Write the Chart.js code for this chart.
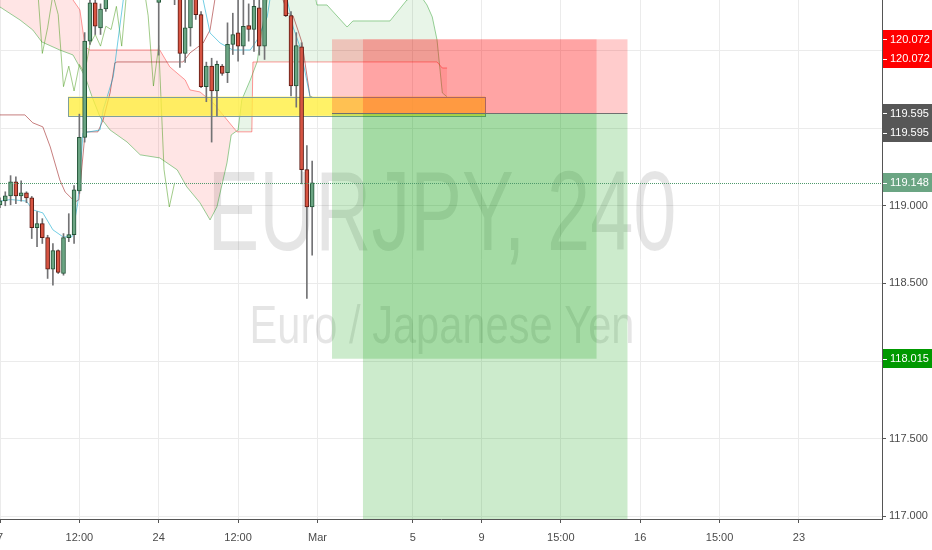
<!DOCTYPE html>
<html>
<head>
<meta charset="utf-8">
<title>EURJPY, 240</title>
<script src="https://cdn.jsdelivr.net/npm/chart.js@4.4.1/dist/chart.umd.min.js"></script>
<style>
  html, body { margin: 0; padding: 0; background: #fff; }
  #wrap { width: 932px; height: 550px; }
</style>
</head>
<body>
<div id="wrap"><canvas id="chart" width="932" height="550"></canvas></div>
<script>
// 4h candles, bar number = index
const opens  = [119.006,119.032,119.064,119.154,119.064,119.083,119.051,118.859,118.885,118.795,
                118.592,118.712,118.564,118.795,118.814,119.096,119.440,120.060,120.306,120.146,
                120.267,120.400,120.520,120.630,120.550,120.720,120.660,120.580,120.480,120.400,
                120.310,120.345,120.450,120.400,120.450,119.981,120.146,120.380,120.231,119.767,
                119.899,119.739,119.899,119.857,120.039,120.114,120.028,120.160,120.135,120.274,
                120.028,120.400,120.550,120.620,120.450,120.224,119.771,120.024,119.233,118.992];
const highs  = [119.051,119.090,119.194,119.186,119.160,119.090,119.060,118.962,118.917,118.810,
                118.757,118.716,118.821,118.949,119.130,119.590,120.115,120.350,120.350,120.300,
                120.450,120.580,120.680,120.700,120.780,120.800,120.700,120.620,120.520,120.440,
                120.400,120.500,120.520,120.500,120.480,120.330,120.400,120.420,120.250,119.925,
                119.950,119.931,119.910,120.178,120.240,120.330,120.330,120.300,120.340,120.340,
                120.450,120.620,120.700,120.660,120.500,120.250,120.115,120.050,119.387,119.288];
const lows   = [118.987,119.000,119.006,119.013,119.030,119.020,118.789,118.737,118.757,118.532,
                118.489,118.564,118.553,118.769,118.757,119.080,119.410,120.039,120.103,120.103,
                120.252,120.360,120.470,120.500,120.520,120.600,120.500,120.430,120.360,120.330,
                119.970,120.330,120.330,120.295,119.891,119.923,120.028,120.200,119.760,119.670,
                119.410,119.579,119.840,119.793,119.974,119.931,119.974,120.060,119.994,119.970,
                119.942,120.350,120.480,120.400,120.218,119.707,119.635,119.141,118.404,118.682];
const closes = [119.032,119.064,119.154,119.064,119.083,119.051,118.859,118.885,118.795,118.592,
                118.712,118.571,118.795,118.814,119.103,119.440,120.060,120.306,120.156,120.267,
                120.400,120.520,120.630,120.550,120.720,120.660,120.580,120.480,120.400,120.360,
                120.345,120.450,120.400,120.450,119.981,120.146,120.360,120.231,119.767,119.899,
                119.739,119.910,119.853,120.039,120.103,120.028,120.156,120.135,120.284,120.028,
                120.400,120.550,120.620,120.450,120.224,119.771,120.032,119.233,118.992,119.148];

// Ichimoku lines: [bar, price]
const conversionLine = [[0,119.03],[2,119.04],[5,119.03],[6.2,118.974],[8.1,118.954],[10,118.845],
  [11.9,118.8],[13.6,118.8],[14.7,119.019],[15.7,119.469],[18.9,119.488],[19.5,119.617],[21.4,119.83],
  [23.3,120.325],[25,120.45],[36.5,120.45],[38.4,120.325],[39.7,120.113],[41.6,120.048],[44,120.003],
  [47.3,120.003],[48.6,120.068],[50.5,120.216],[51,120.325],[52,120.42],[53.8,120.42],[54.3,120.325],
  [55.4,120.151],[56.7,120.023],[58.6,119.701],[59,119.701]];
const baseLine = [[0,119.585],[4.7,119.585],[6.2,119.534],[8.1,119.508],[9.5,119.379],[11.3,119.167],
  [12.3,119.089],[14.2,119.025],[14.9,119.038],[16.1,119.476],[18.5,119.476],[19.5,119.553],[20.8,119.727],
  [21.7,119.92],[22.1,119.926],[34.6,119.926],[35.9,119.984],[38.4,120.048],[39.7,120.132],[40.6,120.325],
  [42,120.42],[52,120.42],[53.5,120.325],[54.4,120.241],[55.4,120.222],[56.3,120.132],[57.1,120.048],
  [58.6,119.701],[59,119.701]];
const leadingSpanA = [[0,120.28],[3.8,120.196],[6.2,120.132],[7.9,120.055],[11.3,120.003],[13.8,119.971],
  [16.1,119.83],[17.4,119.701],[18.9,119.572],[20.8,119.488],[24,119.411],[26.5,119.328],[30.2,119.308],
  [33.5,119.231],[35.3,119.122],[37.8,119.019],[39.7,118.909],[41,118.993],[42.9,119.276],[43.7,119.456],
  [45,119.488],[45.7,119.682],[47.3,119.81],[48.6,119.926],[49.5,120.132],[50.5,120.325],[52,120.45],
  [59,120.45],[59.9,120.293],[61.8,120.293],[65.6,120.151],[66.7,120.19],[73.7,120.19],[76.9,120.325],
  [79.4,120.357],[80.7,120.293],[81.7,120.216],[82.6,120.068],[83.6,119.727],[84.5,119.701]];
const leadingSpanB = [[0,120.45],[13,120.4],[13.8,120.325],[15.1,120.261],[16.1,120.023],[17,120.003],
  [30.2,120.003],[32.1,119.894],[35,119.81],[35.9,119.746],[37.8,119.733],[40.3,119.662],[44,119.508],
  [44.8,119.476],[47.6,119.476],[47.8,119.926],[82.6,119.926],[83.6,119.887],[84.5,119.887]];
const laggingShift = 26;

// axes
const xTickBars   = [0, 15, 30, 45, 60, 78, 91, 106, 121, 136, 151];
const xTickLabels = ['7', '12:00', '24', '12:00', 'Mar', '5', '9', '15:00', '16', '15:00', '23'];
const yGridPrices = [117, 117.5, 118, 118.5, 119, 119.5, 120];
const yShownPrices = [117, 117.5, 118.5, 119];

// drawings
const zoneBars   = [12.85, 91.7];
const zonePrices = [119.579, 119.703];
const positionStarts  = [62.75, 68.6];
const positionEnds    = [112.75, 118.6];
const positionTargets = [118.015, 116.5];
const stopPrice  = 120.072;
const entryPrice = 119.595;
const lastPrice  = 119.148;

const UP = '#6ba583', DOWN = '#d75442';
const toPts = arr => arr.map(p => ({ x: p[0], y: p[1] }));

const bodies = opens.map((o, i) => ({ x: i, y: [o, closes[i]] }));
const wicks  = lows.map((l, i) => ({ x: i, y: [l, highs[i]] }));
const lagging = closes.slice(laggingShift).map((c, i) => ({ x: i, y: c }));
const isUp = opens.map((o, i) => closes[i] >= o);

const FONT = '"Liberation Sans", Arial, sans-serif';
Chart.defaults.font.family = FONT;

function fitText(ctx, text, size, width, cx, baseline) {
  ctx.font = size + 'px ' + FONT;
  const w = ctx.measureText(text).width;
  ctx.save();
  ctx.translate(cx, baseline);
  ctx.scale(width / w, 1);
  ctx.textAlign = 'center';
  ctx.textBaseline = 'alphabetic';
  ctx.fillText(text, 0, 0);
  ctx.restore();
}

const overlay = {
  id: 'overlay',
  beforeDatasetsDraw(chart) {
    const { ctx, chartArea: a } = chart;
    const cx = (a.left + a.right) / 2 + 1;
    ctx.save();
    ctx.fillStyle = 'rgba(0,0,0,0.1)';
    fitText(ctx, 'EURJPY, 240', 114, 469, cx, 250);
    fitText(ctx, 'Euro / Japanese Yen', 53, 385, cx, 343);
    ctx.restore();
  },
  beforeDatasetDraw(chart, args) {
    if (args.index !== 1) return;
    const { ctx, chartArea: a, scales: { x, y } } = chart;
    ctx.save();
    ctx.beginPath();
    ctx.rect(a.left, a.top, a.right - a.left, a.bottom - a.top);
    ctx.clip();
    // yellow zone
    const zx0 = x.getPixelForValue(zoneBars[0]), zx1 = x.getPixelForValue(zoneBars[1]);
    const zy0 = y.getPixelForValue(zonePrices[1]), zy1 = y.getPixelForValue(zonePrices[0]);
    ctx.fillStyle = 'rgba(255,238,60,0.78)';
    ctx.fillRect(zx0, zy0, zx1 - zx0, zy1 - zy0);
    ctx.strokeStyle = '#7f9f9c';
    ctx.lineWidth = 1;
    ctx.strokeRect(Math.round(zx0) + 0.5, Math.round(zy0) + 0.5, Math.round(zx1 - zx0), Math.round(zy1 - zy0));
    // short positions
    const ys = y.getPixelForValue(stopPrice), ye = y.getPixelForValue(entryPrice);
    positionStarts.forEach((s, i) => {
      const x0 = x.getPixelForValue(s), x1 = x.getPixelForValue(positionEnds[i]);
      const yt = y.getPixelForValue(positionTargets[i]);
      ctx.fillStyle = 'rgba(255,0,0,0.2)';
      ctx.fillRect(x0, ys, x1 - x0, ye - ys);
      ctx.fillStyle = 'rgba(0,155,0,0.2)';
      ctx.fillRect(x0, ye, x1 - x0, yt - ye);
    });
    ctx.strokeStyle = '#6f6f6f';
    ctx.beginPath();
    const e = Math.round(ye) + 0.5;
    ctx.moveTo(x.getPixelForValue(Math.min(...positionStarts)), e);
    ctx.lineTo(x.getPixelForValue(Math.max(...positionEnds)), e);
    ctx.stroke();
    ctx.restore();
  },
  afterDatasetsDraw(chart) {
    const { ctx, chartArea: a, scales: { y } } = chart;
    const ly = Math.round(y.getPixelForValue(lastPrice)) + 0.5;
    ctx.save();
    ctx.strokeStyle = '#4f9a6c';
    ctx.lineWidth = 1;
    ctx.setLineDash([1, 1]);
    ctx.beginPath();
    ctx.moveTo(a.left, ly);
    ctx.lineTo(a.right, ly);
    ctx.stroke();
    ctx.restore();
  },
  afterDraw(chart) {
    const { ctx, chartArea: a, scales: { y } } = chart;
    const tags = [
      [stopPrice, '#ff0000', 0], [stopPrice, '#ff0000', 1],
      [entryPrice, '#575757', 0], [entryPrice, '#575757', 1],
      [lastPrice, UP, 0], [positionTargets[0], '#009900', 0]
    ];
    ctx.save();
    ctx.font = '11px ' + FONT;
    ctx.textBaseline = 'middle';
    ctx.textAlign = 'left';
    tags.forEach(([p, col, k]) => {
      const cy = y.getPixelForValue(p) + k * 19.3;
      ctx.fillStyle = col;
      ctx.fillRect(a.right + 1, Math.round(cy - 9.5), 50, 19);
      ctx.strokeStyle = '#ffffff';
      ctx.beginPath();
      ctx.moveTo(a.right + 1, Math.round(cy) + 0.5);
      ctx.lineTo(a.right + 5, Math.round(cy) + 0.5);
      ctx.stroke();
      ctx.fillStyle = '#ffffff';
      ctx.fillText(p.toFixed(3), a.right + 8, cy + 0.5);
    });
    ctx.restore();
  }
};

new Chart(document.getElementById('chart').getContext('2d'), {
  type: 'bar',
  data: {
    datasets: [
      { data: bodies, order: 0, grouped: false, barThickness: 4, minBarLength: 1,
        backgroundColor: isUp.map(u => u ? UP : DOWN),
        borderColor: isUp.map(u => u ? '#225437' : '#5b1a13'),
        borderWidth: 1, borderSkipped: false },
      { data: wicks, order: 1, grouped: false, barThickness: 1,
        backgroundColor: '#737375', borderWidth: 0 },
      { type: 'line', data: toPts(conversionLine), order: 2, borderColor: 'rgba(0,165,205,0.55)',
        borderWidth: 1, pointRadius: 0, tension: 0, fill: false },
      { type: 'line', data: toPts(baseLine), order: 3, borderColor: 'rgba(153,21,21,0.55)',
        borderWidth: 1, pointRadius: 0, tension: 0, fill: false },
      { type: 'line', data: lagging, order: 4, borderColor: 'rgba(69,153,21,0.5)',
        borderWidth: 1, pointRadius: 0, tension: 0, fill: false },
      { type: 'line', data: toPts(leadingSpanB), order: 5, borderColor: 'rgba(255,0,0,0.4)',
        borderWidth: 1, pointRadius: 0, tension: 0, fill: false },
      { type: 'line', data: toPts(leadingSpanA), order: 6, borderColor: 'rgba(0,140,0,0.4)',
        borderWidth: 1, pointRadius: 0, tension: 0,
        fill: { target: 5, above: 'rgba(0,140,0,0.09)', below: 'rgba(255,0,0,0.1)' } }
    ]
  },
  options: {
    responsive: false,
    animation: false,
    events: [],
    layout: { padding: 0 },
    plugins: { legend: { display: false }, tooltip: { enabled: false } },
    scales: {
      x: {
        type: 'linear', min: 0, max: 166.7, offset: false,
        grid: { offset: false, color: '#ebebeb', tickLength: 4, tickColor: '#555' },
        border: { color: '#555', width: 1 },
        ticks: { autoSkip: false, maxRotation: 0, padding: 8, color: '#4a4a4a', font: { size: 11 },
                 callback: (v, i) => xTickLabels[i] },
        afterBuildTicks: s => { s.ticks = xTickBars.map(v => ({ value: v })); },
        afterFit: s => { s.height = 31; s.paddingLeft = 0; s.paddingRight = 0; }
      },
      y: {
        position: 'right', min: 116.983, max: 120.325,
        grid: { color: '#ebebeb', tickLength: 4, tickColor: '#555' },
        border: { color: '#555', width: 1 },
        ticks: { padding: 3, color: '#4a4a4a', font: { size: 11 },
                 callback: v => yShownPrices.includes(v) ? v.toFixed(3) : '' },
        afterBuildTicks: s => { s.ticks = yGridPrices.map(v => ({ value: v })); },
        afterFit: s => { s.width = 50; s.paddingTop = 0; s.paddingBottom = 0; }
      }
    }
  },
  plugins: [overlay]
});
</script>
</body>
</html>
